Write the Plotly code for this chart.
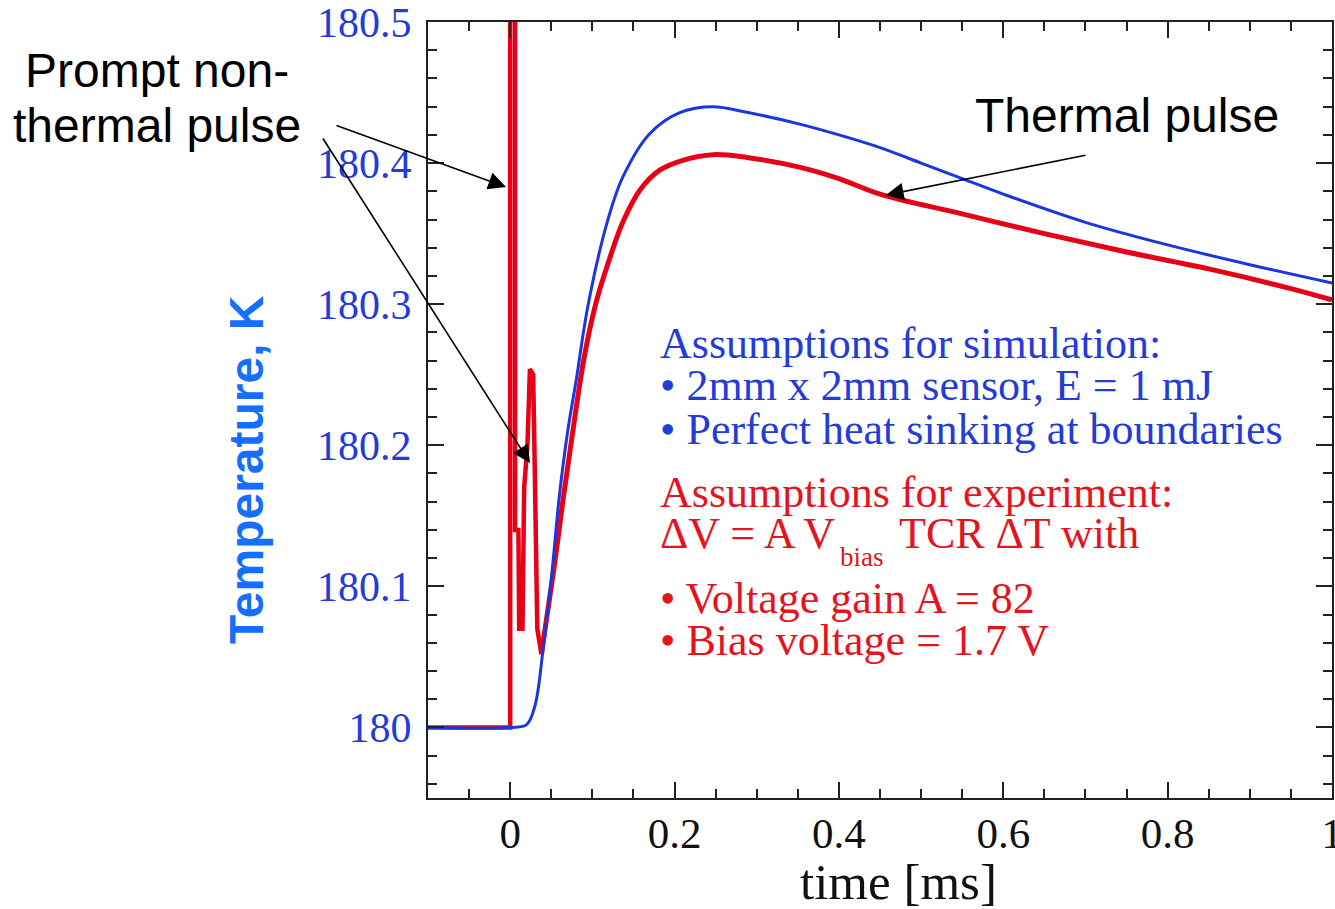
import plotly.graph_objects as go

# ---- data -------------------------------------------------------------
# simulated temperature (blue)
sim_t = [-0.1, 0.0, 0.02, 0.03, 0.04, 0.05, 0.06, 0.07, 0.08, 0.095, 0.118,
         0.137, 0.17, 0.207, 0.247, 0.288, 0.35, 0.4, 0.45, 0.5, 0.55, 0.6,
         0.7, 0.8, 0.9, 1.0]
sim_T = [180.0, 180.0, 180.002, 180.015, 180.055, 180.105, 180.165, 180.21,
         180.245, 180.30, 180.358, 180.39, 180.421, 180.436, 180.440, 180.436,
         180.428, 180.42, 180.411, 180.40, 180.389, 180.378, 180.358, 180.342,
         180.328, 180.315]

# measured temperature (red): baseline and prompt non-thermal spike
spike_t = [-0.1, 0.0, 0.0, 0.006, 0.006, 0.010, 0.011, 0.015, 0.017, 0.021,
           0.024, 0.028, 0.030, 0.033, 0.038]
spike_T = [180.0, 180.0, 181.0, 181.0, 180.14, 180.14, 180.07, 180.07, 180.17,
           180.20, 180.254, 180.25, 180.18, 180.07, 180.052]

# measured temperature (red): thermal pulse
pulse_t = [0.038, 0.045, 0.055, 0.064, 0.075, 0.09, 0.104, 0.118, 0.137,
           0.158, 0.182, 0.21, 0.247, 0.288, 0.353, 0.4, 0.45, 0.55, 0.65,
           0.75, 0.85, 0.95, 1.0]
pulse_T = [180.052, 180.08, 180.12, 180.16, 180.205, 180.262, 180.30, 180.327,
           180.358, 180.381, 180.395, 180.402, 180.406, 180.404, 180.397,
           180.389, 180.378, 180.364, 180.350, 180.337, 180.325, 180.311,
           180.303]

W, H = 1335, 909
L, R, T, B = 428, 3, 22, 111
PW, PH = W - L - R, H - T - B


def px(x):
    return (x - L) / PW


def py(y):
    return (H - B - y) / PH


BLUE_TXT = "rgb(35,60,215)"
RED_TXT = "rgb(228,20,30)"
RED_LINE = "rgb(232,0,22)"
SERIF = "Liberation Serif"
SANS = "Liberation Sans"

fig = go.Figure()
fig.add_trace(go.Scatter(x=spike_t, y=spike_T, mode="lines",
                         line=dict(color=RED_LINE, width=4.5),
                         showlegend=False))
fig.add_trace(go.Scatter(x=pulse_t, y=pulse_T, mode="lines",
                         line=dict(color=RED_LINE, width=5, shape="spline"),
                         showlegend=False))
fig.add_trace(go.Scatter(x=sim_t, y=sim_T, mode="lines",
                         line=dict(color="rgb(25,55,220)", width=3, shape="spline"),
                         showlegend=False))

axis_common = dict(showgrid=False, zeroline=False, showline=True,
                   linecolor="#222", linewidth=2, mirror="allticks",
                   ticks="inside", ticklen=16, tickwidth=2, tickcolor="#222",
                   ticklabeloverflow="allow", automargin=False)

fig.update_xaxes(range=[-0.1, 1.0], dtick=0.2, tick0=0,
                 tickfont=dict(family=SERIF, size=43, color="#111"),
                 ticklabelstandoff=-4,
                 minor=dict(dtick=0.05, ticks="inside", ticklen=9,
                            tickwidth=2, tickcolor="#222"),
                 **axis_common)
fig.update_yaxes(range=[179.95, 180.5], dtick=0.1, tick0=180,
                 tickfont=dict(family=SERIF, size=42, color=BLUE_TXT),
                 ticklabelstandoff=6,
                 minor=dict(dtick=0.02, ticks="inside", ticklen=9,
                            tickwidth=2, tickcolor="#222"),
                 **axis_common)

ann = []


def label(txt, x, y, size, color, family, xanchor="center", **kw):
    ann.append(dict(text=txt, x=px(x), y=py(y), xref="paper", yref="paper",
                    xanchor=xanchor, yanchor="middle", showarrow=False,
                    font=dict(family=family, size=size, color=color), **kw))


# axis titles
label("time [ms]", 898, 882, 51, "#111", SERIF)
label("<b>Temperature, K</b>", 247, 470, 48, "rgb(20,110,255)", SANS,
      textangle=-90)

# callout labels
label("Prompt non-", 157, 70, 48, "#000", SANS)
label("thermal pulse", 157, 126, 48, "#000", SANS)
label("Thermal pulse", 1127, 115, 48, "#000", SANS)

# arrows: (tip, tail) in pixels
for (tx, ty), (sx, sy) in [((506, 187), (335, 125)),
                           ((530, 463), (322, 137)),
                           ((886, 195), (1087, 155))]:
    ann.append(dict(text="", x=px(tx), y=py(ty), xref="paper", yref="paper",
                    ax=sx - tx, ay=sy - ty, axref="pixel", ayref="pixel",
                    showarrow=True, arrowhead=2, arrowsize=2.2, arrowwidth=1.6,
                    arrowcolor="#000", standoff=0))

# notes inside the plot
notes = [
    ("Assumptions for simulation:", 658, 343, BLUE_TXT, 44),
    ("\u2022 2mm x 2mm sensor, E = 1 mJ", 658, 385, BLUE_TXT, 44),
    ("\u2022 Perfect heat sinking at boundaries", 658, 429, BLUE_TXT, 44),
    ("Assumptions for experiment:", 658, 492, RED_TXT, 44),
    ("\u0394V = A V", 658, 533, RED_TXT, 44),
    ("bias", 838, 557, RED_TXT, 27),
    ("TCR \u0394T with", 897, 533, RED_TXT, 44),
    ("\u2022 Voltage gain A = 82", 658, 598, RED_TXT, 44),
    ("\u2022 Bias voltage = 1.7 V", 658, 640, RED_TXT, 44),
]
for txt, x0, yc, col, sz in notes:
    label(txt, x0, yc, sz, col, SERIF, xanchor="left")

fig.update_layout(width=W, height=H, margin=dict(l=L, r=R, t=T, b=B),
                  paper_bgcolor="white", plot_bgcolor="white",
                  annotations=ann)

fig.write_html("out.html")
